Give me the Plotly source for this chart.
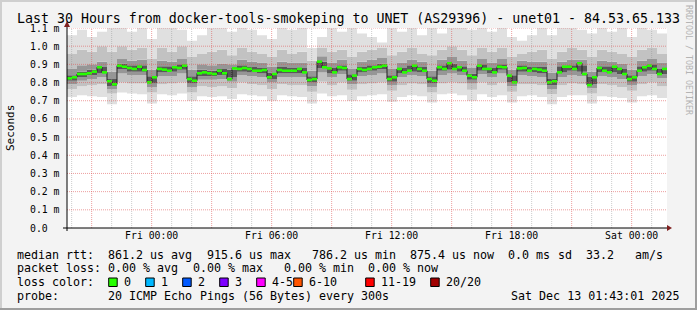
import re
import plotly.graph_objects as go
import pandas as pd

# ---------------- data ----------------
start = pd.Timestamp("2025-12-11 19:46:00")
end = start + pd.Timedelta(hours=30)

# median rtt (ms) every 15 min
median = [
    .823, .829, .847, .847, .851, .860, .884, .856, .807, .790, .893, .887, .880, .875, .887,
    .869, .801, .829, .875, .871, .865, .884, .880, .893, .819, .810, .851, .856, .851, .847,
    .865, .851, .819, .878, .875, .880, .875, .865, .865, .869, .829, .847, .869, .865, .865,
    .865, .875, .856, .814, .819, .915, .884, .878, .856, .884, .880, .819, .838, .875, .869,
    .875, .884, .887, .893, .819, .829, .875, .856, .865, .893, .875, .865, .819, .810, .884,
    .875, .906, .875, .884, .865, .838, .829, .893, .875, .875, .856, .887, .884, .838, .801,
    .878, .880, .865, .875, .871, .865, .801, .807, .856, .887, .887, .875, .906, .847, .786,
    .829, .880, .865, .856, .887, .875, .847, .819, .829, .865, .884, .893, .875, .847, .875,
]

# smoke percentiles (ms) every 30 min
smoke_max = [
    1.06, 1.09, 1.05, 1.08, 1.10, 1.10, 1.08, 1.10, 1.04, 1.10, 1.10, 1.09, 1.03, 1.06, 1.10,
    1.10, 1.08, 1.10, 1.09, 1.06, 1.04, 1.10, 1.09, 1.10, 0.99, 1.05, 1.10, 1.08, 1.10, 1.07,
    1.05, 1.02, 1.10, 1.08, 1.10, 1.06, 1.10, 1.07, 1.10, 1.10, 1.09, 1.10, 1.08, 1.10, 1.05,
    1.03, 1.06, 1.10, 1.06, 1.10, 1.10, 1.09, 1.07, 1.10, 1.08, 1.10, 1.05, 1.10, 1.09, 1.07,
]
smoke_p90 = [
    .96, .98, .97, 1.0, .97, 1.0, .98, .99, .93, .99, .97, 1.0, .94, .96, .97,
    .98, .95, .99, .97, .96, .94, .98, .96, .97, .92, .99, .97, .98, .94, .97,
    .98, .99, .95, .97, .99, .96, .95, .98, 1.0, .98, .95, .99, .97, .99, .94,
    .96, .97, .98, .93, .97, .99, .98, .94, .98, .97, .96, .94, .98, .99, .96,
]
smoke_p75 = [
    .875, .895, .90, .915, .86, .93, .92, .925, .87, .92, .915, .93, .87, .90, .895,
    .905, .90, .925, .915, .91, .885, .915, .91, .91, .865, .945, .91, .925, .875, .915,
    .925, .935, .875, .91, .925, .915, .865, .925, .94, .92, .88, .93, .91, .93, .87,
    .92, .915, .915, .855, .915, .925, .925, .86, .92, .915, .905, .87, .92, .93, .91,
]
smoke_p60 = [
    .84, .86, .87, .885, .82, .905, .895, .895, .835, .89, .89, .90, .835, .87, .865,
    .875, .87, .895, .885, .88, .855, .885, .88, .88, .835, .915, .88, .895, .845, .885,
    .895, .905, .84, .88, .895, .885, .835, .895, .905, .89, .85, .90, .88, .90, .84,
    .895, .885, .885, .82, .89, .895, .895, .83, .89, .89, .875, .84, .89, .90, .875,
]
smoke_p40 = [
    .81, .83, .84, .85, .78, .875, .86, .86, .795, .855, .86, .87, .795, .835, .835,
    .84, .83, .86, .855, .85, .82, .85, .85, .85, .80, .88, .85, .865, .81, .855,
    .865, .875, .805, .85, .86, .855, .795, .865, .87, .86, .815, .865, .85, .87, .80,
    .86, .855, .85, .785, .855, .865, .86, .79, .855, .855, .845, .805, .86, .865, .845,
]
smoke_p25 = [
    .79, .81, .82, .83, .765, .85, .84, .84, .775, .835, .835, .85, .775, .815, .815,
    .82, .805, .84, .835, .83, .80, .83, .83, .83, .78, .855, .83, .845, .79, .835,
    .84, .85, .785, .83, .84, .835, .775, .84, .85, .84, .795, .845, .83, .85, .78,
    .84, .835, .83, .765, .83, .84, .835, .77, .835, .83, .82, .785, .835, .845, .825,
]
smoke_p10 = [
    .765, .78, .785, .79, .74, .80, .795, .795, .745, .79, .795, .80, .745, .78, .775,
    .78, .77, .80, .79, .785, .765, .79, .785, .785, .75, .805, .785, .80, .76, .79,
    .795, .80, .755, .785, .795, .79, .745, .795, .80, .795, .76, .80, .785, .80, .75,
    .79, .79, .785, .735, .785, .795, .79, .74, .79, .785, .775, .755, .79, .80, .78,
]
smoke_min = [
    .72, .73, .725, .72, .68, .745, .74, .735, .685, .735, .73, .74, .70, .725, .72,
    .725, .71, .735, .73, .725, .70, .73, .725, .72, .685, .74, .725, .73, .70, .725,
    .73, .735, .695, .72, .73, .725, .69, .735, .74, .73, .70, .735, .72, .73, .69,
    .725, .73, .72, .68, .72, .73, .73, .685, .725, .72, .715, .69, .725, .73, .715,
]

y_tick_vals = [0.0, 0.1, 0.2, 0.3, 0.4, 0.5, 0.6, 0.7, 0.8, 0.9, 1.0, 1.1]
y_tick_text = ["0.0  ", "0.1 m", "0.2 m", "0.3 m", "0.4 m", "0.5 m", "0.6 m",
               "0.7 m", "0.8 m", "0.9 m", "1.0 m", "1.1 m"]
x_tick_times = ["2025-12-12 00:00", "2025-12-12 06:00", "2025-12-12 12:00",
                "2025-12-12 18:00", "2025-12-13 00:00"]
x_tick_text = ["Fri 00:00", "Fri 06:00", "Fri 12:00", "Fri 18:00", "Sat 00:00"]

title = "Last 30 Hours from docker-tools-smokeping to UNET (AS29396) - unet01 - 84.53.65.133"
stat_line1 = "median rtt:  861.2 us avg  915.6 us max   786.2 us min  875.4 us now  0.0 ms sd  33.2   am/s"
stat_line2 = "packet loss: 0.00 % avg  0.00 % max   0.00 % min  0.00 % now"
loss_title = "loss color:"
loss_labels = ["0", "1", "2", "3", "4-5", "6-10", "11-19", "20/20"]
loss_colors = ["#26ff00", "#00b8ff", "#0059ff", "#7e00ff", "#ff00ff", "#ff5500", "#ff0000", "#a10000"]
probe_line = "probe:       20 ICMP Echo Pings (56 Bytes) every 300s"
stamp = "Sat Dec 13 01:43:01 2025"

# ---------------- layout constants ----------------
W, H = 697, 310
L, R, T, B = 67, 667, 28, 228
MONO = "DejaVu Sans Mono"
CW = 7.02  # legend char advance (px)


def px(x):
    return (x - L) / (R - L)


def py(y):
    return (B - y) / (B - T)


fig = go.Figure()

# smoke
n_s = len(smoke_max)
s_step = (end - start) / n_s
sx = [start + s_step * k for k in range(n_s + 1)]


def ext(a):
    return list(a) + [a[-1]]


bands = [
    (smoke_min, None),
    (smoke_p10, "#e0e0e0"),
    (smoke_p25, "#c2c2c2"),
    (smoke_p40, "#969696"),
    (smoke_p60, "#585858"),
    (smoke_p75, "#969696"),
    (smoke_p90, "#c2c2c2"),
    (smoke_max, "#e0e0e0"),
]
for arr, col in bands:
    fig.add_trace(go.Scatter(
        x=sx, y=ext(arr), mode="lines", line=dict(width=0, shape="hv"),
        fill="tonexty" if col else None, fillcolor=col, hoverinfo="skip", showlegend=False))

# median
n_m = len(median)
m_step = (end - start) / n_m
mx = [start + m_step * k for k in range(n_m + 1)]
fig.add_trace(go.Scatter(x=mx, y=ext(median), mode="lines",
                         line=dict(color="#202020", width=1, shape="hv"),
                         hoverinfo="skip", showlegend=False))
gx, gy = [], []
for k, v in enumerate(median):
    gx += [mx[k], mx[k + 1], None]
    gy += [v, v, None]
fig.add_trace(go.Scatter(x=gx, y=gy, mode="lines", line=dict(color=loss_colors[0], width=2.6),
                         hoverinfo="skip", showlegend=False))

shapes = []
MGRID = "rgba(222,80,80,0.55)"
GRID = "rgba(143,143,143,0.45)"
# grid
h = start.ceil("h")
while h < end:
    major = h.hour % 3 == 0
    shapes.append(dict(type="line", xref="x", yref="paper", x0=h, x1=h, y0=0, y1=1,
                       line=dict(color=MGRID if major else GRID, width=1, dash="1px,1px"),
                       layer="above"))
    h += pd.Timedelta(hours=1)
for v in y_tick_vals[1:]:
    shapes.append(dict(type="line", xref="paper", yref="y", x0=0, x1=1, y0=v, y1=v,
                       line=dict(color=MGRID, width=1, dash="1px,1px"), layer="above"))
# axes
shapes.append(dict(type="line", xref="paper", yref="paper", x0=px(63), x1=px(667), y0=0, y1=0,
                   line=dict(color="black", width=1), layer="above"))
shapes.append(dict(type="line", xref="paper", yref="paper", x0=0, x1=0, y0=py(231), y1=py(24),
                   line=dict(color="black", width=1), layer="above"))
shapes.append(dict(type="path", xref="paper", yref="paper",
                   path=f"M {px(667)} {py(225)} L {px(672)} {py(228)} L {px(667)} {py(231)} Z",
                   fillcolor="#7f1f1f", line=dict(width=0), layer="above"))
shapes.append(dict(type="path", xref="paper", yref="paper",
                   path=f"M {px(64)} {py(27)} L {px(67)} {py(21)} L {px(70)} {py(27)} Z",
                   fillcolor="#7f1f1f", line=dict(width=0), layer="above"))
# frame
shapes.append(dict(type="rect", xref="paper", yref="paper", x0=px(0), x1=px(2), y0=py(H), y1=py(0),
                   fillcolor="#cfcfcf", line=dict(width=0)))
shapes.append(dict(type="rect", xref="paper", yref="paper", x0=px(0), x1=px(W), y0=py(2), y1=py(0),
                   fillcolor="#cfcfcf", line=dict(width=0)))
shapes.append(dict(type="rect", xref="paper", yref="paper", x0=px(W - 2), x1=px(W), y0=py(H), y1=py(0),
                   fillcolor="#9e9e9e", line=dict(width=0)))
shapes.append(dict(type="rect", xref="paper", yref="paper", x0=px(0), x1=px(W), y0=py(H), y1=py(H - 2),
                   fillcolor="#9e9e9e", line=dict(width=0)))

annotations = []


def text(x, y, s, size=11.67, anchor="left", color="black", angle=0, yref="paper"):
    annotations.append(dict(xref="paper", yref=yref, x=px(x), y=(py(y) if yref == "paper" else y),
                            text=s, showarrow=False, xanchor=anchor, yanchor="middle",
                            textangle=angle, borderpad=0,
                            font=dict(family=MONO, size=size, color=color)))


def mono_line(x0, y, s):
    # place each word at its character column so spacing follows the monospace grid
    for m in re.finditer(r"\S+", s):
        text(x0 + m.start() * CW, y, m.group())


text(348.5, 18.3, title, size=13.27, anchor="center")
text(10, 128, "Seconds", size=11, anchor="center", angle=-90)
text(689, 60, "RRDTOOL / TOBI OETIKER", size=8.3, anchor="center", color="#b4b4b4", angle=90)
mono_line(16, 254.7, stat_line1)
mono_line(16, 268, stat_line2)
mono_line(16, 282.3, loss_title)
mono_line(16, 295.7, probe_line)
text(680, 295.7, stamp, anchor="right")

# y tick labels (right aligned on the character grid)
for v, lab in zip(y_tick_vals, y_tick_text):
    s = lab.rstrip()
    text(60.5 - (len(lab) - len(s)) * 5.9, v, s, size=9.8, anchor="right", yref="y")

box_x = [108.7, 145.7, 182.7, 219.7, 256.7, 293.7, 365.7, 430.7]
for bx, lab, col in zip(box_x, loss_labels, loss_colors):
    shapes.append(dict(type="rect", xref="paper", yref="paper", x0=px(bx), x1=px(bx + 8.5),
                       y0=py(286.5), y1=py(278), fillcolor=col, line=dict(color="black", width=1)))
    text(bx + 14.6, 282.3, lab)

fig.update_layout(
    width=W, height=H, margin=dict(l=L, r=W - R, t=T, b=H - B),
    paper_bgcolor="#f3f3f3", plot_bgcolor="white",
    showlegend=False, shapes=shapes, annotations=annotations,
    xaxis=dict(type="date", range=[start, end], tickvals=x_tick_times, ticktext=x_tick_text,
               showgrid=False, zeroline=False, showline=False, ticks="",
               tickfont=dict(family=MONO, size=9.8, color="black")),
    yaxis=dict(range=[0, 1.1], showticklabels=False,
               showgrid=False, zeroline=False, showline=False, ticks=""),
)

fig.write_html("out.html")
